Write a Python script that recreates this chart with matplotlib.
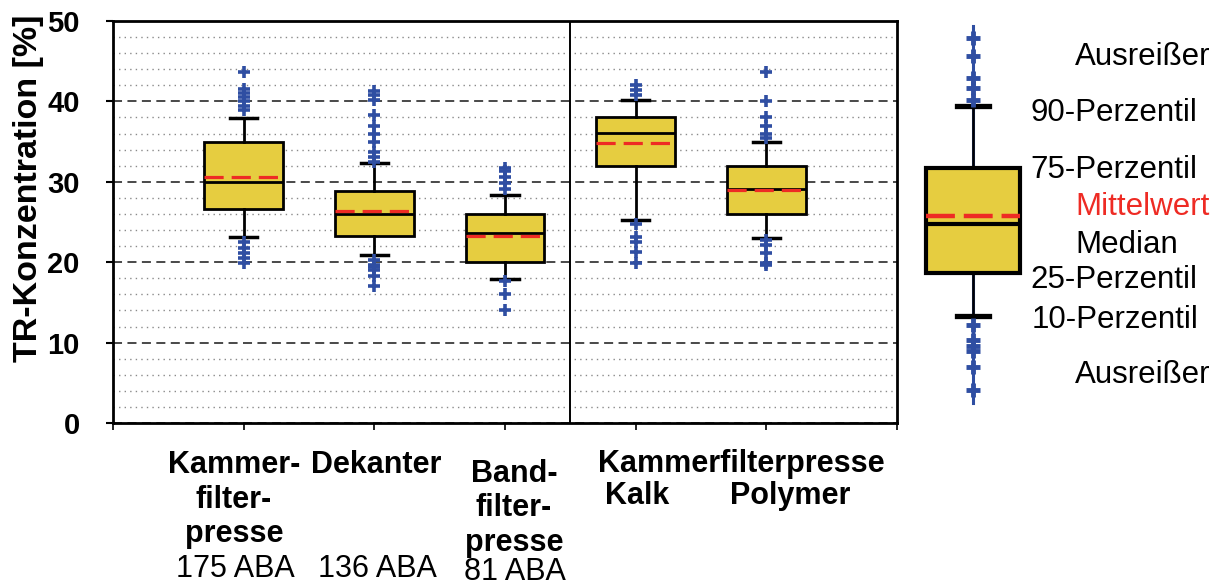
import matplotlib
matplotlib.use('Agg')
import matplotlib.pyplot as plt
from matplotlib.ticker import MultipleLocator

plt.rcParams['font.family'] = ['Liberation Sans', 'DejaVu Sans']

# ---------------- data ----------------
categories = ['Kammerfilterpresse', 'Dekanter', 'Bandfilterpresse',
              'Kammerfilterpresse Kalk', 'Kammerfilterpresse Polymer']
p10 = [23.1, 20.9, 17.9, 25.2, 23.0]
q1 = [26.6, 23.2, 20.0, 32.0, 26.0]
median = [30.0, 26.0, 23.6, 36.1, 29.1]
mean = [30.6, 26.4, 23.3, 34.8, 29.0]
q3 = [35.0, 28.9, 26.0, 38.1, 32.0]
p90 = [37.9, 32.3, 28.4, 40.2, 34.9]
outliers_high = [
    [43.7, 41.5, 41.0, 40.5, 40.0, 39.4, 38.9],
    [41.3, 40.8, 40.2, 38.3, 36.9, 35.9, 34.9, 33.7, 33.1, 32.5],
    [31.7, 31.3, 30.6, 29.9, 29.1],
    [42.0, 41.4, 40.8],
    [43.7, 40.0, 38.1, 36.9, 35.9, 35.4],
]
outliers_low = [
    [22.5, 21.8, 21.1, 20.5, 19.9],
    [20.3, 19.7, 19.4, 19.0, 18.3, 17.0],
    [17.6, 16.1, 14.0],
    [24.8, 23.1, 22.5, 21.3, 19.9],
    [22.7, 22.1, 21.1, 19.9, 19.6],
]

# legend example box
leg_p10, leg_q1, leg_median, leg_mean, leg_q3, leg_p90 = 13.3, 18.6, 24.8, 25.8, 31.7, 39.4
leg_outliers = [47.9, 45.6, 42.9, 41.7, 40.2, 12.2, 10.3, 9.6, 8.9, 7.0, 4.1]
leg_outlier_range = [2.5, 49.4]

# text
yticks = [0, 10, 20, 30, 40, 50]
ylabel = 'TR-Konzentration [%]'
xlabel_lines = [['Kammer-', 'filter-', 'presse'], ['Dekanter'], ['Band-', 'filter-', 'presse']]
xlabel_counts = ['175 ABA', '136 ABA', '81 ABA']
group_label = 'Kammerfilterpresse'
group_sublabels = ['Kalk', 'Polymer']
legend_labels = ['Ausreißer', '90-Perzentil', '75-Perzentil', 'Mittelwert',
                 'Median', '25-Perzentil', '10-Perzentil', 'Ausreißer']

# ---------------- style ----------------
W, H = 1223, 586
YELLOW = '#E6CD40'
BLUE = '#2F4EA2'
RED = '#EE2B24'

fig = plt.figure(figsize=(W / 100, H / 100), dpi=100)

def px(x, y):
    return (x / W, 1 - y / H)

ax_l, ax_r, ax_t, ax_b = 113, 897, 21, 423
ax = fig.add_axes([ax_l / W, 1 - ax_b / H, (ax_r - ax_l) / W, (ax_b - ax_t) / H])

positions = list(range(1, len(categories) + 1))
stats = []
for i in range(len(categories)):
    stats.append(dict(med=median[i], q1=q1[i], q3=q3[i], whislo=p10[i], whishi=p90[i],
                      mean=mean[i], fliers=outliers_high[i] + outliers_low[i], label=''))

ax.bxp(stats, positions=positions, widths=0.6, capwidths=0.21,
       showmeans=True, meanline=True, patch_artist=True, zorder=3,
       boxprops=dict(facecolor=YELLOW, edgecolor='black', linewidth=2),
       medianprops=dict(color='black', linewidth=2),
       meanprops=dict(color=RED, linewidth=2.3, linestyle=(0, (6, 2.5))),
       whiskerprops=dict(color='black', linewidth=2),
       capprops=dict(color='black', linewidth=2.5),
       flierprops=dict(marker='+', markeredgecolor=BLUE, markerfacecolor=BLUE,
                       markersize=8.5, markeredgewidth=2.6, linestyle='none'))

ax.set_xlim(0, len(categories) + 1)
ax.set_ylim(0, 50)
ax.set_xticks(range(0, len(categories) + 2))
ax.set_xticklabels([])
ax.set_yticks(yticks)
ax.set_yticklabels([str(v) for v in yticks], fontsize=21, fontweight='bold')
ax.yaxis.set_minor_locator(MultipleLocator(2))
ax.tick_params(axis='y', which='major', direction='out', length=5, width=1.5, pad=19)
ax.tick_params(axis='y', which='minor', length=0)
ax.tick_params(axis='x', which='major', direction='out', length=5, width=1.2)
ax.grid(which='major', axis='y', linestyle=(0, (5, 3)), color='#3a3a3a', linewidth=1.3, zorder=0)
ax.grid(which='minor', axis='y', linestyle=(0, (1, 3)), color='#8a8a8a', linewidth=1.0, zorder=0)
ax.set_axisbelow(True)
for s in ax.spines.values():
    s.set_linewidth(2)
    s.set_color('black')
ax.axvline(3.5, color='black', linewidth=1.4, zorder=2)

ax.set_ylabel(ylabel, fontsize=24.5, fontweight='bold')
ax.yaxis.set_label_coords((44 - ax_l) / (ax_r - ax_l), (ax_b - 188) / (ax_b - ax_t))

# x labels as text
col_centers = [234, 376, 514]
first_baselines = [473, 473, 482]
count_baselines = [577, 577, 580]
line_step = 34.5
for i, lines in enumerate(xlabel_lines):
    for j, t in enumerate(lines):
        fig.text(*px(col_centers[i], first_baselines[i] + j * line_step), t,
                 ha='center', va='baseline', fontsize=22, fontweight='bold')
    fig.text(*px(col_centers[i] + 1, count_baselines[i]), xlabel_counts[i],
             ha='center', va='baseline', fontsize=22)
fig.text(*px(741, 472), group_label, ha='center', va='baseline', fontsize=22, fontweight='bold')
for cx, t in zip([637, 790], group_sublabels):
    fig.text(*px(cx, 504), t, ha='center', va='baseline', fontsize=22, fontweight='bold')

# ---------------- legend panel ----------------
ax2 = fig.add_axes([900 / W, 1 - ax_b / H, 323 / W, (ax_b - ax_t) / H])
ax2.set_xlim(0, 1)
ax2.set_ylim(0, 50)
ax2.axis('off')
leg_x = 0.226
ax2.plot([leg_x, leg_x], leg_outlier_range, color=BLUE, linewidth=2.2, zorder=1)
ax2.bxp([dict(med=leg_median, q1=leg_q1, q3=leg_q3, whislo=leg_p10, whishi=leg_p90,
              mean=leg_mean, fliers=leg_outliers, label='')],
        positions=[leg_x], widths=0.288, capwidths=0.096,
        showmeans=True, meanline=True, patch_artist=True, zorder=3,
        boxprops=dict(facecolor=YELLOW, edgecolor='black', linewidth=3),
        medianprops=dict(color='black', linewidth=3),
        meanprops=dict(color=RED, linewidth=3.2, linestyle=(0, (6.5, 2))),
        whiskerprops=dict(color='black', linewidth=1.8),
        capprops=dict(color='black', linewidth=3.8),
        flierprops=dict(marker='+', markeredgecolor=BLUE, markersize=10,
                        markeredgewidth=3.5, linestyle='none'))

leg_text_x = [1075, 1030, 1030, 1075, 1075, 1030, 1032, 1075]
leg_text_base = [65, 121, 178, 215, 253, 288, 328, 383]
for t, lx, by in zip(legend_labels, leg_text_x, leg_text_base):
    fig.text(*px(lx, by), t, ha='left', va='baseline', fontsize=22.5,
             color=RED if t == 'Mittelwert' else 'black')

fig.savefig('out.png', dpi=100)
